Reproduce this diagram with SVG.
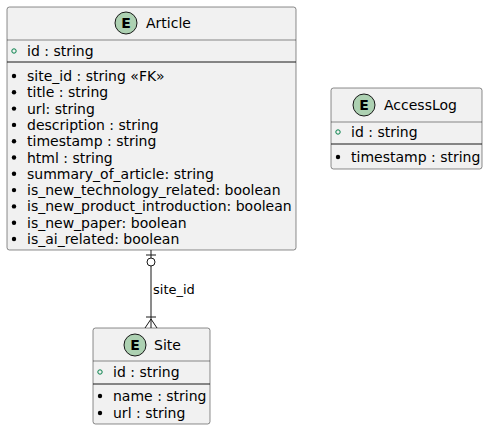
<svg xmlns="http://www.w3.org/2000/svg" width="488" height="430" viewBox="0 0 488 430">
<style>
.box{fill:#F1F1F1;stroke:#181818;stroke-width:0.5}
.sep{stroke:#181818;stroke-width:1}
.hsep{stroke:#181818;stroke-width:0.5}
.ecirc{fill:#ADD1B2;stroke:#181818;stroke-width:1}
.eletter{font-family:"DejaVu Sans",sans-serif;font-size:14px;font-weight:bold;fill:#000}
.title{font-family:"DejaVu Sans",sans-serif;font-size:14px;fill:#000}
.attr{font-family:"DejaVu Sans",sans-serif;font-size:14px;fill:#000}
.pk{fill:none;stroke:#038048;stroke-width:1}
.bul{fill:#000}
.lbl{font-family:"DejaVu Sans",sans-serif;font-size:13px;fill:#000}
.conn{stroke:#181818;stroke-width:1;fill:none}
</style>
<g id="Article">
<rect class="box" x="7" y="7" width="289" height="243" rx="2.5"/>
<line class="hsep" x1="7" y1="40" x2="296" y2="40"/>
<line class="sep" x1="7" y1="62" x2="296" y2="62"/>
<circle class="ecirc" cx="126" cy="23" r="11"/>
<text class="eletter" x="126" y="28" text-anchor="middle">E</text>
<text class="title" x="146" y="28">Article</text>
<circle class="pk" cx="14" cy="51" r="2.2"/>
<text class="attr" x="27" y="56">id : string</text>
<g>
<circle class="bul" cx="14" cy="76" r="2.2"/><text class="attr" x="27" y="81">site_id : string «FK»</text>
<circle class="bul" cx="14" cy="92.3" r="2.2"/><text class="attr" x="27" y="97.3">title : string</text>
<circle class="bul" cx="14" cy="108.6" r="2.2"/><text class="attr" x="27" y="113.6">url: string</text>
<circle class="bul" cx="14" cy="124.9" r="2.2"/><text class="attr" x="27" y="129.9">description : string</text>
<circle class="bul" cx="14" cy="141.2" r="2.2"/><text class="attr" x="27" y="146.2">timestamp : string</text>
<circle class="bul" cx="14" cy="157.5" r="2.2"/><text class="attr" x="27" y="162.5">html : string</text>
<circle class="bul" cx="14" cy="173.8" r="2.2"/><text class="attr" x="27" y="178.8">summary_of_article: string</text>
<circle class="bul" cx="14" cy="190.1" r="2.2"/><text class="attr" x="27" y="195.1">is_new_technology_related: boolean</text>
<circle class="bul" cx="14" cy="206.4" r="2.2"/><text class="attr" x="27" y="211.4">is_new_product_introduction: boolean</text>
<circle class="bul" cx="14" cy="222.7" r="2.2"/><text class="attr" x="27" y="227.7">is_new_paper: boolean</text>
<circle class="bul" cx="14" cy="239" r="2.2"/><text class="attr" x="27" y="244">is_ai_related: boolean</text>
</g>
</g>
<g id="AccessLog">
<rect class="box" x="331" y="88" width="151" height="81" rx="2.5"/>
<line class="hsep" x1="331" y1="122" x2="482" y2="122"/>
<line class="sep" x1="331" y1="144" x2="482" y2="144"/>
<circle class="ecirc" cx="364" cy="105" r="11"/>
<text class="eletter" x="364" y="110" text-anchor="middle">E</text>
<text class="title" x="384" y="110">AccessLog</text>
<circle class="pk" cx="338" cy="132" r="2.2"/>
<text class="attr" x="351" y="137">id : string</text>
<circle class="bul" cx="338" cy="157" r="2.2"/>
<text class="attr" x="351" y="162">timestamp : string</text>
</g>
<g id="Site">
<rect class="box" x="93" y="328" width="117" height="96" rx="2.5"/>
<line class="hsep" x1="93" y1="361" x2="210" y2="361"/>
<line class="sep" x1="93" y1="384" x2="210" y2="384"/>
<circle class="ecirc" cx="135" cy="345" r="11"/>
<text class="eletter" x="135" y="350" text-anchor="middle">E</text>
<text class="title" x="154" y="350">Site</text>
<circle class="pk" cx="100" cy="372" r="2.2"/>
<text class="attr" x="113" y="377">id : string</text>
<circle class="bul" cx="100" cy="396" r="2.2"/>
<text class="attr" x="113" y="401">name : string</text>
<circle class="bul" cx="100" cy="413" r="2.2"/>
<text class="attr" x="113" y="418">url : string</text>
</g>
<g id="connectors">
<line class="conn" x1="151" y1="250" x2="151" y2="328"/>
<line class="conn" x1="146" y1="255" x2="156" y2="255"/>
<circle class="conn" cx="151" cy="262" r="4" style="fill:#FFFFFF"/>
<line class="conn" x1="146" y1="317" x2="156" y2="317"/>
<line class="conn" x1="151" y1="319" x2="145" y2="328"/>
<line class="conn" x1="151" y1="319" x2="157" y2="328"/>
<text class="lbl" x="153" y="294">site_id</text>
</g>
</svg>
